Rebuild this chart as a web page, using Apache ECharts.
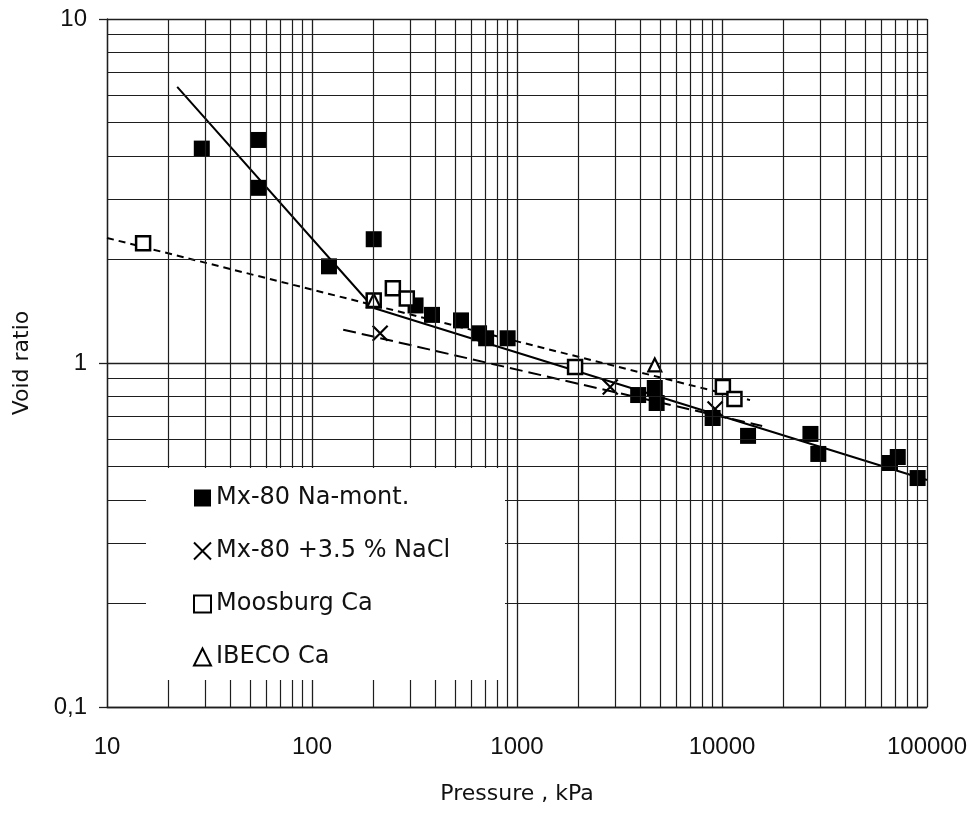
<!DOCTYPE html>
<html>
<head>
<meta charset="utf-8">
<script src="https://cdn.jsdelivr.net/npm/echarts@6/dist/echarts.min.js"></script>
<style>
html,body{margin:0;padding:0;background:#fff;}
#chart{width:978px;height:813px;}
</style>
</head>
<body>
<div id="chart"></div>
<script>
// ---- data ----
const mx80Na = [[29,4.2],[55,4.45],[55,3.23],[121,1.91],[200,2.29],[320,1.47],[385,1.38],[533,1.33],[653,1.22],[707,1.18],[900,1.18],[3900,0.807],[4700,0.846],[4800,0.765],[9000,0.692],[13400,0.614],[27000,0.622],[29500,0.544],[66000,0.512],[72000,0.533],[90000,0.463]];
const mx80NaCl = [[215,1.22],[2850,0.852],[9250,0.735]];
const moosburg = [[15,2.23],[200,1.52],[248,1.65],[290,1.54],[1920,0.973],[10100,0.852],[11500,0.786]];
const ibeco = [[200,1.52],[4700,0.987]];
const fitNa = [[22,6.35],[200,1.445],[100000,0.457]];
const fitMoosburg = [[10,2.31],[13700,0.78]];
const fitNaCl = [[142,1.25],[15700,0.656]];
const xMinorTicks = [20,30,40,50,60,70,80,90,200,300,400,500,600,700,800,900,2000,3000,4000,5000,6000,7000,8000,9000,20000,30000,40000,50000,60000,70000,80000,90000];
const yMinorTicks = [0.2,0.3,0.4,0.5,0.6,0.7,0.8,0.9,2,3,4,5,6,7,8,9];
const legendNames = ['Mx-80 Na-mont.','Mx-80 +3.5 % NaCl','Moosburg Ca','IBECO Ca'];

const gridColor = '#1e1e1e';
const chart = echarts.init(document.getElementById('chart'), null, {renderer:'canvas'});
const minorLines = xMinorTicks.map(v => ({xAxis: v})).concat(yMinorTicks.map(v => ({yAxis: v})));

const option = {
  animation: false,
  backgroundColor: '#fff',
  grid: {left: 107, right: 51, top: 19, bottom: 106, containLabel: false},
  xAxis: {
    type: 'log', logBase: 10, min: 10, max: 100000,
    axisLine: {show: true, lineStyle: {color: gridColor, width: 1.3}},
    axisTick: {show: false},
    axisLabel: {fontFamily: 'Liberation Sans', fontSize: 24, color: '#111', margin: 28,
      formatter: v => String(Math.round(v))},
    splitLine: {show: true, lineStyle: {color: gridColor, width: 1.3}},
    name: 'Pressure , kPa', nameLocation: 'middle', nameGap: 76,
    nameTextStyle: {fontFamily: 'DejaVu Sans', fontSize: 22, color: '#111'}
  },
  yAxis: {
    type: 'log', logBase: 10, min: 0.1, max: 10,
    axisLine: {show: true, lineStyle: {color: gridColor, width: 1.3}},
    axisTick: {show: true, length: 8, lineStyle: {color: gridColor, width: 1.3}},
    axisLabel: {fontFamily: 'Liberation Sans', fontSize: 24, color: '#111', margin: 20,
      formatter: v => (v < 0.5 ? '0,1' : String(Math.round(v)))},
    splitLine: {show: true, lineStyle: {color: gridColor, width: 1.3}},
    name: 'Void ratio', nameLocation: 'middle', nameGap: 74, nameRotate: 90,
    nameTextStyle: {fontFamily: 'DejaVu Sans', fontSize: 22, color: '#111'}
  },
  legend: {
    data: legendNames, orient: 'vertical', left: 193, top: 486, padding: 0,
    itemGap: 29, itemWidth: 17, itemHeight: 17, zlevel: 1, z: 10,
    textStyle: {fontFamily: 'DejaVu Sans', fontSize: 24, color: '#111'},
    selectedMode: false
  },
  graphic: {elements: [{type: 'rect', zlevel: 1, z: 1, silent: true,
    shape: {x: 146, y: 468, width: 359, height: 212}, style: {fill: '#fff'}}]},
  series: [
    {name: 'minor-grid', type: 'line', data: [], silent: true, z: 1,
      markLine: {silent: true, symbol: 'none', animation: false, label: {show: false},
        lineStyle: {color: gridColor, width: 1.2, type: 'solid'}, data: minorLines}},
    {name: 'fitNa', type: 'line', data: fitNa, showSymbol: false, symbol: 'none', z: 2,
      lineStyle: {color: '#000', width: 2, type: 'solid'}},
    {name: 'fitMoosburg', type: 'line', data: fitMoosburg, showSymbol: false, symbol: 'none', z: 2,
      lineStyle: {color: '#000', width: 2, type: [7, 5]}},
    {name: 'fitNaCl', type: 'line', data: fitNaCl, showSymbol: false, symbol: 'none', z: 2,
      lineStyle: {color: '#000', width: 2, type: [13, 6]}},
    {name: legendNames[0], type: 'scatter', data: mx80Na, symbol: 'rect', symbolSize: 16, z: 4,
      itemStyle: {color: '#000', opacity: 1}},
    {name: legendNames[1], type: 'scatter', data: mx80NaCl, symbol: 'path://M0,0L10,10M10,0L0,10', symbolSize: 15, z: 4,
      itemStyle: {color: 'rgba(0,0,0,0)', borderColor: '#000', borderWidth: 2.2, opacity: 1}},
    {name: legendNames[2], type: 'scatter', data: moosburg, symbol: 'rect', symbolSize: 14, z: 4,
      itemStyle: {color: '#fff', borderColor: '#000', borderWidth: 2.5, opacity: 1}},
    {name: legendNames[3], type: 'scatter', data: ibeco, symbol: 'triangle', symbolSize: 13, z: 4,
      itemStyle: {color: '#fff', borderColor: '#000', borderWidth: 2.2, opacity: 1}}
  ]
};
chart.setOption(option);
</script>
</body>
</html>
